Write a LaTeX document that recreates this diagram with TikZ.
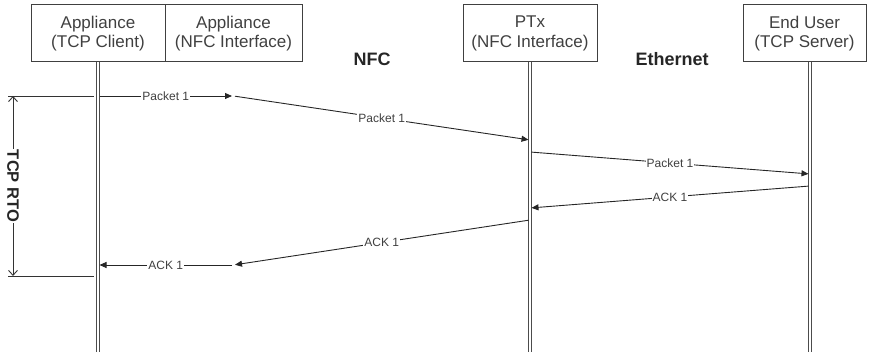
\documentclass[tikz,border=0pt]{standalone}
\usepackage{fontspec}
\setmainfont{Liberation Sans}
\usetikzlibrary{arrows.meta}
\usetikzlibrary{positioning}

\begin{document}
\begin{tikzpicture}[
        x=1pt, y=-1pt,
        actor/.style={
            draw=black!75, line width=1pt, inner sep=0pt, outer sep=0pt,
            minimum width=134pt, minimum height=57pt, align=center,
            font=\fontsize{17}{19.5}\selectfont, text=black!75
        },
        lifeline/.style={draw=black!70, double, double distance=2.2pt, line width=0.8pt},
        msg/.style={draw=black!85, line width=0.9pt, shorten <=1.5pt, shorten >=1.5pt,
            -{Triangle[length=7pt,width=6pt]}},
        lbl/.style={fill=white, inner sep=1pt, font=\fontsize{12}{14}\selectfont, text=black!75},
        heading/.style={font=\bfseries\fontsize{18}{20}\selectfont, text=black!85},
        ]
        \useasboundingbox (0,0) rectangle (873,352);

        \node[actor] (tcp) at (98,33.5) {Appliance\\(TCP Client)};
        \node[actor, minimum width=137pt, right=0pt of tcp] (nfc) {Appliance\\(NFC Interface)};
        \node[actor] (ptx) at (530,33.5) {PTx\\(NFC Interface)};
        \node[actor, minimum width=123pt] (eu) at (804.5,33.5) {End User\\(TCP Server)};

        \node[heading] (nfclink) at (372,59) {NFC};
        \node[heading] (ethlink) at (672,59) {Ethernet};

        \coordinate (euL) at ([xshift=5.5pt]eu.south);
        \draw[lifeline] (tcp.south) -- (tcp.south |- 0,352);
        \draw[lifeline] (nfc.south) -- (nfc.south |- 0,352);
        \draw[lifeline] (ptx.south) -- (ptx.south |- 0,352);
        \draw[lifeline] (euL) -- (euL |- 0,352);

        \draw[msg] (tcp |- 0,96) -- node[lbl] {Packet 1} (nfc |- 0,96);
        \draw[msg] (nfc |- 0,96) -- node[lbl] {Packet 1} (ptx |- 0,140);
        \draw[msg] (ptx |- 0,152) -- node[lbl] {Packet 1} (euL |- 0,174);
        \draw[msg] (euL |- 0,186) -- node[lbl] {ACK 1} (ptx |- 0,208);
        \draw[msg] (ptx |- 0,220) -- node[lbl] {ACK 1} (nfc |- 0,265);
        \draw[msg] (nfc |- 0,265) -- node[lbl] {ACK 1} (tcp |- 0,265);

        % retransmission timeout
        \coordinate (rtotop) at (8,96);
        \coordinate (rtobot) at (8,276);
        \draw[draw=black!80, line width=0.9pt, shorten >=4pt] (rtotop) -- (tcp |- rtotop);
        \draw[draw=black!80, line width=0.9pt, shorten >=4pt] (rtobot) -- (tcp |- rtobot);
        \draw[draw=black!80, line width=0.9pt, {Straight Barb[length=5pt,width=9pt]}-{Straight Barb[length=5pt,width=9pt]}]
            ([xshift=5pt]rtotop) -- node[heading, font=\bfseries\fontsize{16.5}{18}\selectfont, fill=white, rotate=-90, inner sep=1pt] {TCP RTO} ([xshift=5pt]rtobot);
    \end{tikzpicture}
\end{document}
